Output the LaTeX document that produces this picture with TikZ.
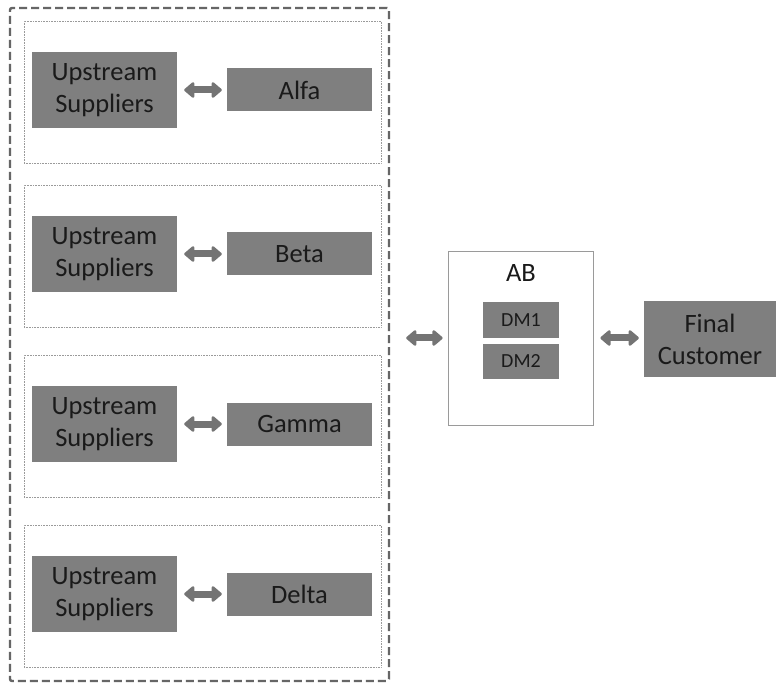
\documentclass[tikz,border=0pt]{standalone}
\usepackage{fontspec}
\setmainfont{Carlito}
\usepackage{xcolor}
\usetikzlibrary{arrows.meta,calc,positioning}
\definecolor{boxfill}{HTML}{7F7F7F}
\definecolor{arrowgray}{HTML}{747474}
\definecolor{framegray}{HTML}{666666}
\definecolor{thingray}{HTML}{9A9A9A}
\definecolor{inktext}{HTML}{1A1A1A}
\tikzset{
  outerframe/.style={
    draw=framegray,
    line width=2.4pt,
    dash pattern=on 8pt off 4pt,
    rounded corners=2pt,
    inner sep=0pt
  },
  groupbox/.style={
    draw=thingray,
    line width=0.6pt,
    densely dotted,
    inner sep=0pt,
    minimum width=357pt,
    minimum height=142pt
  },
  actor/.style={
    fill=boxfill,
    draw=none,
    text=inktext,
    align=center,
    font=\fontsize{26.5}{32}\selectfont,
    inner sep=0pt
  },
  supplier/.style={actor, minimum width=145pt, minimum height=76pt},
  firm/.style={actor, minimum width=145pt, minimum height=43pt},
  dmbox/.style={actor, font=\fontsize{20}{24}\selectfont, minimum width=76pt, minimum height=35pt},
  hubbox/.style={draw=thingray, line width=0.8pt, fill=white, inner sep=0pt},
  hublabel/.style={text=inktext, font=\fontsize{26.5}{32}\selectfont, inner sep=0pt},
  biarrow/.style={
    draw=arrowgray,
    line width=7pt,
    line join=round,
    {Triangle[width=18pt,length=11pt,line join=round]}-{Triangle[width=18pt,length=11pt,line join=round]}
  }
}

\begin{document}
\begin{tikzpicture}[x=1pt,y=-1pt]
\path[use as bounding box] (0,0) rectangle (776,684);
\fill[white] (0,0) rectangle (776,684);

\node[outerframe, minimum width=379pt, minimum height=673pt] (chain) at (199.5,344.5) {};

% four supplier groups
\foreach \name/\firmlabel/\y in {alfa/Alfa/90, beta/Beta/254, gamma/Gamma/424, delta/Delta/594}{
  \node[groupbox] (grp\name) at (202.5,\y+2) {};
  \node[supplier] (up\name) at (104.5,\y) {Upstream\\Suppliers};
  \node[firm] (\name) at (299.5,\y) {\firmlabel};
  \draw[biarrow, shorten <=7pt, shorten >=5pt] (up\name) -- (\name);
}

\node[hubbox, minimum width=145pt, minimum height=174pt] (ab) at (520.5,338) {};
\node[hublabel] (abname) at (521,273) {AB};
\node[dmbox, minimum height=36pt] (dmone) at (521,320) {DM1};
\node[dmbox] (dmtwo) at (521,361.5) {DM2};

\node[supplier, minimum width=132pt] (customer) at (710,339) {Final\\Customer};

\draw[biarrow, shorten <=16pt, shorten >=5pt] (chain.east |- ab.west) -- (ab.west);
\draw[biarrow, shorten <=7pt, shorten >=5pt] (ab.east) -- (ab.east -| customer.west);

\end{tikzpicture}
\end{document}
